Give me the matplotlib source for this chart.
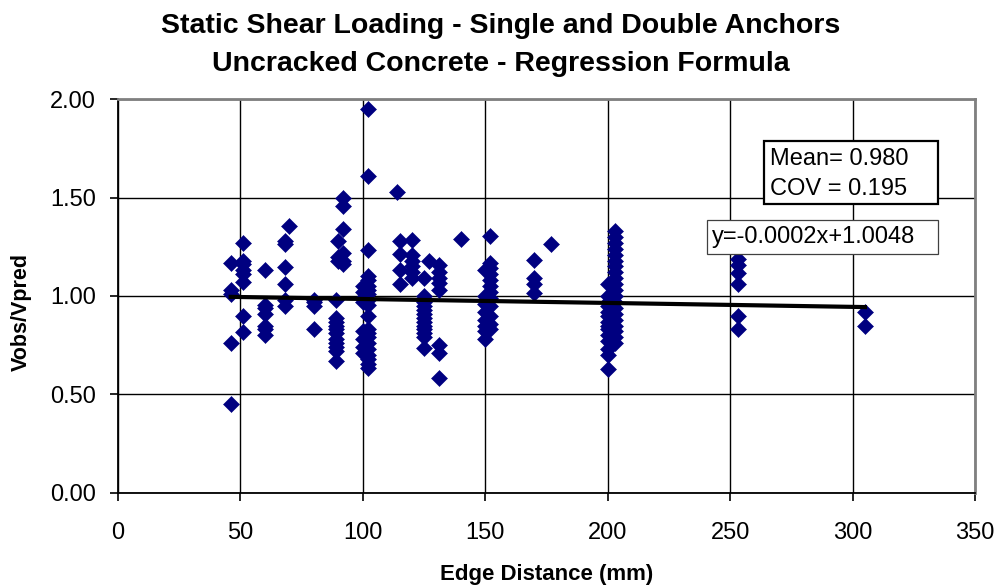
import numpy as np
import matplotlib
matplotlib.use("Agg")
import matplotlib.pyplot as plt
from matplotlib.ticker import FormatStrFormatter
from matplotlib.patches import Rectangle

plt.rcParams['font.family'] = ['Liberation Sans', 'DejaVu Sans']

edge_46 = [1.17, 1.03, 1.01, 0.76, 0.45]
edge_51 = [1.27, 1.18, 1.16, 1.13, 1.11, 1.07, 0.90, 0.815]
edge_60 = [1.13, 0.955, 0.94, 0.91, 0.85, 0.83, 0.80]
edge_68 = [1.28, 1.265, 1.145, 1.06, 0.98, 0.95]
edge_70 = [1.355]
edge_80 = [0.98, 0.97, 0.95, 0.835]
edge_89 = [0.98, 0.89, 0.87, 0.85, 0.83, 0.81, 0.78, 0.76, 0.74, 0.72, 0.67]
edge_90 = [1.28, 1.20, 1.18]
edge_92 = [1.495, 1.455, 1.34, 1.22, 1.18, 1.16]
edge_100 = [1.05, 1.02, 0.99, 0.97, 0.82, 0.78, 0.74, 0.71]
edge_102 = [1.95, 1.61, 1.235, 1.10, 1.08, 1.05, 1.03, 1.01, 0.98, 0.955, 0.90,
            0.835, 0.81, 0.79, 0.76, 0.73, 0.70, 0.68, 0.655, 0.635]
edge_114 = [1.53]
edge_115 = [1.28, 1.215, 1.13, 1.06]
edge_120 = [1.285, 1.21, 1.18, 1.15, 1.12, 1.09]
edge_125 = [1.09, 1.00, 0.97, 0.95, 0.93, 0.91, 0.89, 0.87, 0.85, 0.83, 0.81,
            0.79, 0.735]
edge_127 = [1.18]
edge_131 = [1.155, 1.12, 1.09, 1.065, 1.03, 0.75, 0.71, 0.585]
edge_140 = [1.287]
edge_150 = [1.13, 1.00, 0.96, 0.92, 0.88, 0.85, 0.82, 0.78]
edge_152 = [1.303, 1.165, 1.14, 1.11, 1.08, 1.05, 1.02, 0.99, 0.95, 0.90, 0.86,
            0.83]
edge_170 = [1.185, 1.09, 1.06, 1.015]
edge_177 = [1.265]
edge_200 = [1.06, 1.0, 0.97, 0.95, 0.92, 0.90, 0.87, 0.85, 0.83, 0.80, 0.77,
            0.73, 0.70, 0.63]
edge_203 = [1.33, 1.30, 1.27, 1.24, 1.21, 1.18, 1.15, 1.12, 1.09, 1.06, 1.03,
            1.0, 0.97, 0.94, 0.91, 0.88, 0.85, 0.82, 0.79, 0.76]
edge_253 = [1.19, 1.155, 1.115, 1.06, 0.90, 0.835]
edge_305 = [0.92, 0.85]

columns = [(46, edge_46), (51, edge_51), (60, edge_60), (68, edge_68),
           (70, edge_70), (80, edge_80), (89, edge_89), (90, edge_90),
           (92, edge_92), (100, edge_100), (102, edge_102), (114, edge_114),
           (115, edge_115), (120, edge_120), (125, edge_125), (127, edge_127),
           (131, edge_131), (140, edge_140), (150, edge_150), (152, edge_152),
           (170, edge_170), (177, edge_177), (200, edge_200), (203, edge_203),
           (253, edge_253), (305, edge_305)]

slope = -0.0002
intercept = 1.0048
mean_lines = ["Mean= 0.980", "COV = 0.195"]
eq_txt = "y=-0.0002x+1.0048"

x = np.concatenate([[c] * len(v) for c, v in columns])
y = np.concatenate([v for c, v in columns])

fig = plt.figure(figsize=(10.02, 5.88), dpi=100)
ax = fig.add_axes([0.1178, 0.1616, 0.8554, 0.6700])

ax.grid(True, color='black', linewidth=1.0)
ax.set_axisbelow(True)
ax.plot(x, y, 'D', color='#000080', markersize=7.8, markeredgewidth=0.4,
        linestyle='none', zorder=3)

xl = np.array([x.min(), x.max()])
ax.plot(xl, slope * xl + intercept, color='black', linewidth=3.0, zorder=4)

ax.set_xlim(0, 350)
ax.set_ylim(0, 2)
ax.set_xticks(np.arange(0, 351, 50))
ax.set_yticks(np.arange(0, 2.01, 0.5))
ax.yaxis.set_major_formatter(FormatStrFormatter('%.2f'))
ax.tick_params(labelsize=17, length=6, width=1.2, direction='out', color='black')
ax.tick_params(axis='x', pad=15)
ax.tick_params(axis='y', pad=10)

for s in ['top', 'right']:
    ax.spines[s].set_color('#808080')
    ax.spines[s].set_linewidth(2)
for s in ['left', 'bottom']:
    ax.spines[s].set_color('black')
    ax.spines[s].set_linewidth(1.3)

ax.set_xlabel('Edge Distance (mm)', fontsize=16, fontweight='bold', labelpad=14)
ax.set_ylabel('Vobs/Vpred', fontsize=15.5, fontweight='bold')
ax.yaxis.set_label_coords(-0.101, 0.46)

fig.text(0.5, 1 - 33.3 / 588, 'Static Shear Loading - Single and Double Anchors',
         ha='center', va='baseline', fontsize=20.5, fontweight='bold')
fig.text(0.5, 1 - 70.7 / 588, 'Uncracked Concrete - Regression Formula',
         ha='center', va='baseline', fontsize=20.5, fontweight='bold')

# annotation boxes
ax.add_patch(Rectangle((0.7538, 0.7335), 0.2030, 0.1607, transform=ax.transAxes,
                       facecolor='white', edgecolor='black', linewidth=1.6,
                       zorder=5, clip_on=False))
ax.text(0.7608, 0.8325, mean_lines[0], transform=ax.transAxes, fontsize=17,
        va='baseline', ha='left', zorder=6)
ax.text(0.7608, 0.7563, mean_lines[1], transform=ax.transAxes, fontsize=17,
        va='baseline', ha='left', zorder=6)

ax.add_patch(Rectangle((0.6873, 0.6066), 0.2695, 0.0863, transform=ax.transAxes,
                       facecolor='white', edgecolor='#404040', linewidth=0.9,
                       zorder=5, clip_on=False))
ax.text(0.6931, 0.6338, eq_txt, transform=ax.transAxes, fontsize=17,
        va='baseline', ha='left', zorder=6)

fig.savefig('out.png', dpi=100)
